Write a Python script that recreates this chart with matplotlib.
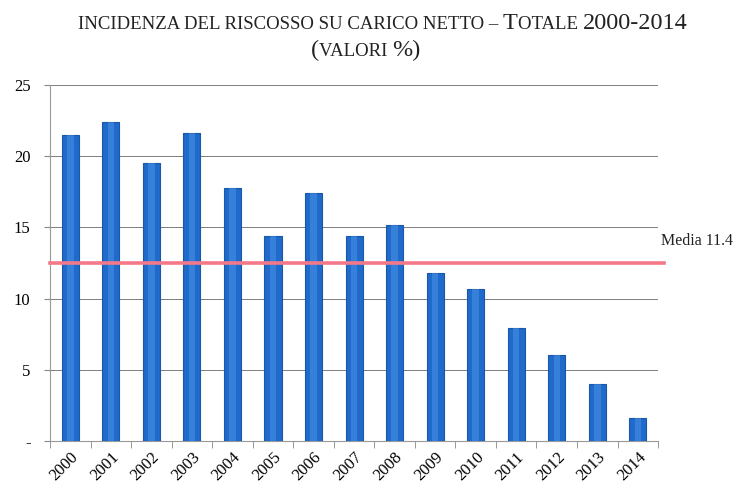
import numpy as np
import matplotlib.pyplot as plt
from matplotlib.offsetbox import TextArea, HPacker, AnchoredOffsetbox

# ===== dati =====
anni = ["2000", "2001", "2002", "2003", "2004", "2005", "2006", "2007",
        "2008", "2009", "2010", "2011", "2012", "2013", "2014"]
valori = [21.5, 22.4, 19.5, 21.6, 17.8, 14.4, 17.4, 14.4,
          15.2, 11.8, 10.7, 7.9, 6.0, 4.0, 1.6]
media_linea = 12.5
media_label = "Media 11.4"
y_ticks = [0, 5, 10, 15, 20, 25]
y_labels = ["-", "5", "10", "15", "20", "25"]

SERIF = "Liberation Serif"
BIG = 17.5
SMALL = 13.5

fig = plt.figure(figsize=(7.47, 4.92), dpi=100)
ax = fig.add_axes([0.067, 0.104, 0.814, 0.723])

x = np.arange(len(anni))
ax.bar(x, valori, width=0.42, color="#1f6acb", edgecolor="#1a57a6",
       linewidth=0.8, zorder=3)
# riflesso chiaro al centro delle barre
ax.bar(x, valori, width=0.16, color="#4a93e6", linewidth=0, zorder=3, alpha=0.55)

ax.axhline(media_linea, color="#f3798a", linewidth=2.6, zorder=4, xmax=1.01,
           clip_on=False)
ax.text(1.005, (media_linea + 1.0) / 25, media_label, transform=ax.transAxes,
        fontsize=11.5, family=SERIF, color="#222222", ha="left", va="bottom")

ax.set_xlim(-0.5, len(anni) - 0.5)
ax.set_ylim(0, 25)
ax.set_yticks(y_ticks)
ax.set_yticklabels(y_labels, family=SERIF, fontsize=12)
ax.yaxis.grid(True, color="#6a6a6a", linewidth=0.6, zorder=0)
ax.tick_params(axis="y", length=4, color="#888888", pad=10)

ax.set_xticks(x)
ax.set_xticklabels(anni, rotation=45, ha="right", rotation_mode="anchor",
                   family=SERIF, fontsize=12)
ax.set_xticks(np.arange(-0.5, len(anni)), minor=True)
ax.tick_params(axis="x", which="major", length=0, pad=6)
ax.tick_params(axis="x", which="minor", length=5, color="#888888")

for s in ["top", "right"]:
    ax.spines[s].set_visible(False)
ax.spines["left"].set_color("#999999")
ax.spines["bottom"].set_color("#999999")

# titolo in maiuscoletto
def riga(pezzi):
    return HPacker(children=[TextArea(t, textprops=dict(fontsize=s, family=SERIF,
                                                        color="#222222"))
                             for t, s in pezzi], pad=0, sep=0, align="baseline")

titolo = riga([("INCIDENZA DEL RISCOSSO SU CARICO NETTO \u2013 ", SMALL),
               ("T", BIG), ("OTALE ", SMALL), ("2000-2014", BIG)])
sotto = riga([("(", BIG), ("VALORI ", SMALL), ("%)", BIG)])
fig.add_artist(AnchoredOffsetbox(loc="center", child=titolo, frameon=False,
                                 bbox_to_anchor=(0.512, 0.952),
                                 bbox_transform=fig.transFigure, pad=0))
fig.add_artist(AnchoredOffsetbox(loc="center", child=sotto, frameon=False,
                                 bbox_to_anchor=(0.49, 0.898),
                                 bbox_transform=fig.transFigure, pad=0))

plt.savefig("out.png", dpi=100)
